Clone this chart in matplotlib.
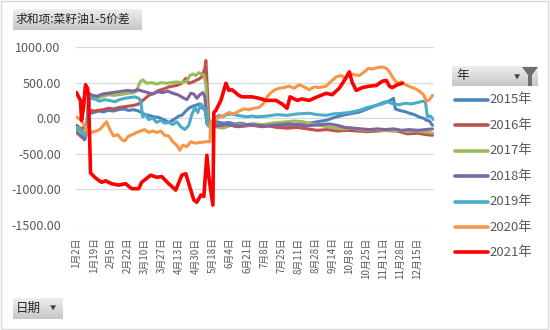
import numpy as np
import pandas as pd
import matplotlib
matplotlib.use("Agg")
import matplotlib.pyplot as plt
from matplotlib.lines import Line2D
from matplotlib.patches import Polygon, Rectangle

plt.rcParams["font.family"] = ["Noto Sans CJK SC", "DejaVu Sans"]

W, H = 550, 330

# category axis: every calendar day of a (leap) year that had trading in any year
days = pd.date_range("2020-01-02", "2020-12-31")
closed = {(5, 1)} | {(10, d) for d in range(1, 8)}
days = [d for d in days if (d.month, d.day) not in closed]
dates = [f"{d.month}月{d.day}日" for d in days]
tick_step = 17

years = ["2015年", "2016年", "2017年", "2018年", "2019年", "2020年", "2021年"]
colors = ["#4F81BD", "#C0504D", "#9BBB59", "#8064A2", "#4BACC6", "#F79646", "#FF0000"]

# (category index, spread) pairs per year
s2015 = [(0, -150), (3, -200), (6, -200), (8, -300), (10, -220), (12, 60), (17, 80),
         (22, 100), (27, 90), (32, 110), (37, 100), (42, 120), (47, 130), (52, 110),
         (57, 120), (62, 100), (67, 60), (72, 40), (77, 20), (82, 10), (87, -20),
         (92, -60), (97, -20), (102, 30), (105, 40), (109, 100), (112, 140), (116, 170),
         (119, 180), (122, 200), (125, 150), (128, 120), (130, -40), (134, -60),
         (140, -50), (146, -70), (152, -60), (158, -80), (164, -70), (170, -90),
         (176, -80), (182, -100), (190, -90), (200, -110), (208, -100), (215, -100),
         (222, -80), (232, -70), (240, -50), (249, -30), (257, 10), (265, 40), (272, 60),
         (282, 85), (290, 130), (299, 180), (306, 220), (312, 240), (316, 280),
         (318, 130), (322, 110), (328, 90), (332, 70), (337, 50), (342, 15), (346, 0),
         (349, -30), (352, -40), (355, -100)]

s2016 = [(0, -100), (5, -150), (10, -100), (12, 120), (17, 100), (22, 110), (27, 120),
         (32, 140), (37, 130), (42, 150), (47, 160), (52, 170), (57, 180), (62, 200),
         (67, 260), (72, 320), (77, 350), (82, 390), (87, 410), (92, 440), (100, 460),
         (105, 490), (109, 560), (112, 490), (116, 510), (119, 530), (122, 550),
         (125, 580), (128, 700), (129, 810), (130, 550), (132, -80), (136, -100),
         (142, -90), (148, -110), (154, -100), (160, -120), (168, -110), (176, -100),
         (184, -120), (192, -110), (200, -130), (210, -140), (220, -130), (230, -150),
         (240, -170), (250, -160), (260, -180), (270, -170), (280, -180), (290, -190),
         (300, -180), (310, -170), (320, -180), (330, -220), (340, -210), (348, -230),
         (355, -240)]

s2017 = [(0, -180), (5, -220), (10, -150), (12, 280), (17, 300), (22, 290), (27, 310),
         (32, 330), (37, 320), (42, 330), (47, 340), (52, 350), (57, 360), (60, 380),
         (63, 500), (66, 540), (70, 490), (75, 500), (80, 480), (85, 500), (90, 490),
         (95, 500), (100, 510), (105, 500), (110, 520), (113, 600), (116, 620),
         (119, 600), (122, 640), (125, 620), (127, 600), (129, 480), (131, -100),
         (134, -140), (138, -120), (146, -140), (154, -100), (162, -90), (170, -100),
         (178, -80), (186, -90), (194, -70), (202, -60), (210, -50), (218, -40),
         (226, -50), (234, -80), (242, -100), (250, -120), (258, -140), (266, -150),
         (274, -140), (282, -160), (290, -170), (298, -160), (306, -170), (314, -180),
         (322, -170), (330, -190), (338, -180), (346, -190), (352, -200), (355, -210)]

s2018 = [(0, -200), (4, -250), (8, -300), (11, -150), (12, 350), (16, 320), (21, 310),
         (26, 340), (31, 350), (36, 360), (41, 370), (46, 380), (51, 390), (56, 380),
         (61, 400), (66, 380), (71, 360), (76, 340), (81, 370), (86, 360), (91, 380),
         (96, 350), (101, 330), (106, 290), (110, 260), (114, 350), (117, 340),
         (120, 280), (123, 330), (126, 360), (128, 300), (130, -80), (134, -100),
         (140, -110), (148, -90), (156, -100), (164, -110), (172, -90), (180, -100),
         (188, -110), (196, -100), (204, -90), (212, -80), (220, -90), (228, -110),
         (236, -100), (244, -90), (252, -80), (260, -100), (268, -130), (276, -140),
         (284, -150), (292, -160), (300, -150), (308, -160), (316, -150), (324, -170),
         (332, -160), (340, -170), (348, -160), (355, -150)]

s2019 = [(0, -130), (3, -130), (6, -200), (9, -250), (11, -150), (13, 280), (18, 270),
         (23, 240), (28, 260), (33, 250), (38, 230), (43, 260), (48, 280), (53, 290),
         (58, 300), (62, 280), (64, 250), (66, 20), (69, 50), (72, -20), (76, 0),
         (80, -60), (84, -30), (88, -70), (92, -60), (96, -90), (100, -50), (104, -120),
         (108, -160), (112, -100), (115, 50), (118, 150), (121, 80), (124, 200),
         (127, 150), (129, 80), (131, -100), (134, -80), (138, 0), (142, 40), (146, 20),
         (150, 50), (155, 60), (160, 40), (165, 30), (170, 20), (175, 30), (180, 20),
         (190, 30), (200, 50), (210, 40), (220, 60), (232, 70), (240, 50), (249, 40),
         (256, 60), (265, 70), (272, 80), (282, 110), (290, 150), (299, 180), (305, 200),
         (310, 230), (316, 200), (322, 190), (328, 210), (334, 200), (340, 220),
         (346, 240), (348, 220), (350, 20), (353, 30), (356, -20)]

s2020 = [(0, 20), (4, -20), (8, -100), (12, -220), (15, -200), (20, -180), (24, -150),
         (28, -80), (30, -50), (33, -150), (37, -250), (41, -230), (45, -300), (48, -320),
         (52, -250), (56, -230), (60, -200), (64, -180), (68, -160), (72, -200), (76, -180),
         (80, -200), (84, -180), (88, -240), (92, -250), (96, -330), (100, -380),
         (103, -450), (106, -380), (110, -400), (114, -330), (118, -350), (124, -340),
         (130, -330), (133, -330), (134, -60), (137, -20), (142, 10), (147, 40), (152, 80),
         (157, 60), (162, 100), (167, 130), (172, 120), (177, 140), (182, 150), (186, 200),
         (190, 300), (194, 360), (198, 400), (202, 420), (207, 430), (212, 450), (217, 420),
         (222, 470), (227, 440), (232, 400), (237, 440), (242, 430), (249, 450), (254, 520),
         (259, 580), (264, 600), (268, 560), (272, 630), (277, 610), (282, 600), (287, 650),
         (291, 700), (295, 690), (300, 710), (305, 720), (309, 700), (312, 650), (316, 560),
         (320, 490), (324, 510), (328, 470), (333, 440), (337, 420), (342, 380), (346, 330),
         (349, 240), (352, 260), (355, 320)]

s2021 = [(0, 360), (2, 300), (4, 250), (5, -30), (7, 150), (9, 470), (11, 420), (12, 300),
         (14, -770), (19, -840), (25, -900), (29, -880), (35, -920), (42, -940), (49, -920),
         (55, -990), (62, -990), (65, -900), (74, -800), (80, -830), (85, -820), (92, -920),
         (99, -1010), (105, -800), (109, -780), (112, -920), (117, -1150), (120, -1180),
         (124, -1080), (127, -1100), (130, -520), (132, -830), (136, -1220), (137, 80),
         (139, 110), (144, 250), (149, 490), (152, 390), (155, 400), (162, 320), (165, 300),
         (175, 300), (182, 280), (189, 250), (199, 250), (205, 200), (210, 140), (213, 300),
         (220, 250), (225, 270), (232, 250), (240, 300), (249, 350), (255, 330), (262, 420),
         (268, 550), (272, 650), (275, 500), (279, 390), (285, 430), (292, 450), (299, 460),
         (305, 520), (309, 530), (312, 450), (315, 430), (320, 470), (325, 490)]

series = [s2015, s2016, s2017, s2018, s2019, s2020, s2021]
yticks = [1000, 500, 0, -500, -1000, -1500]


def fig_rect(x0, y0, x1, y1):
    return [x0 / W, 1 - y1 / H, (x1 - x0) / W, (y1 - y0) / H]


def fx(x):
    return x / W


def fy(y):
    return 1 - y / H


fig = plt.figure(figsize=(W / 100, H / 100), dpi=100)
fig.patch.set_facecolor("white")

ax = fig.add_axes(fig_rect(76, 47, 434, 225))
for pts, color, name in zip(series, colors, years):
    xs, ys = zip(*pts)
    lw = 2.6 if name == "2021年" else 2.2
    ax.plot(xs, ys, color=color, lw=lw, solid_joinstyle="round", solid_capstyle="round")

ax.set_xlim(-0.5, len(dates) - 0.5)
ax.set_ylim(-1500, 1000)
ax.set_yticks(yticks)
ax.set_yticklabels([f"{v:.2f}" for v in yticks])
ax.yaxis.grid(True, color="#D9D9D9", lw=0.9)
ax.set_axisbelow(True)
ticks = list(range(0, len(dates), tick_step))
ax.set_xticks(ticks)
ax.set_xticklabels([dates[i] for i in ticks], rotation=90, va="top", ha="center")
ax.tick_params(axis="y", length=0, pad=11, labelsize=9, labelcolor="#595959")
ax.tick_params(axis="x", length=0, pad=9, labelsize=7, labelcolor="#595959")
for sp in ax.spines.values():
    sp.set_visible(False)


def button(x0, y0, x1, y1):
    b = fig.add_axes(fig_rect(x0, y0, x1, y1))
    b.imshow(np.linspace(0.93, 0.78, 24)[:, None], cmap="gray", vmin=0, vmax=1,
             aspect="auto", extent=(0, 1, 0, 1))
    b.set_xlim(0, 1)
    b.set_ylim(0, 1)
    b.axis("off")
    return b


# field buttons of the pivot chart
button(13, 9, 142, 30)
fig.text(fx(16), fy(19.5), "求和项:菜籽油1-5价差", fontsize=8.5, color="#262626", va="center")

button(13, 298, 63, 319)
fig.text(fx(16), fy(308.5), "日期", fontsize=9, color="#262626", va="center")
fig.text(fx(53), fy(309), "▼", fontsize=4.5, color="#404040", va="center", ha="center")

button(452, 66, 538, 86)
fig.text(fx(456), fy(76), "年", fontsize=9, color="#262626", va="center")
fig.text(fx(517), fy(78), "▼", fontsize=4.5, color="#404040", va="center", ha="center")
funnel = [(522, 67), (538, 67), (532, 75), (532, 86), (528, 86), (528, 75)]
fig.add_artist(Polygon([(fx(x), fy(y)) for x, y in funnel], closed=True,
                       transform=fig.transFigure, facecolor="#6E6E6E", edgecolor="none"))

# legend
for i, (name, color) in enumerate(zip(years, colors)):
    y = 100 + i * 25.4
    fig.add_artist(Line2D([fx(455), fx(488)], [fy(y), fy(y)], transform=fig.transFigure,
                          color=color, lw=2.6, solid_capstyle="round"))
    fig.text(fx(489), fy(y), name, fontsize=9.5, color="#595959", va="center")

fig.add_artist(Rectangle((0.002, 0.003), 0.995, 0.993, transform=fig.transFigure,
                         fill=False, edgecolor="#D9D9D9", lw=1))

fig.savefig("out.png", dpi=100)
